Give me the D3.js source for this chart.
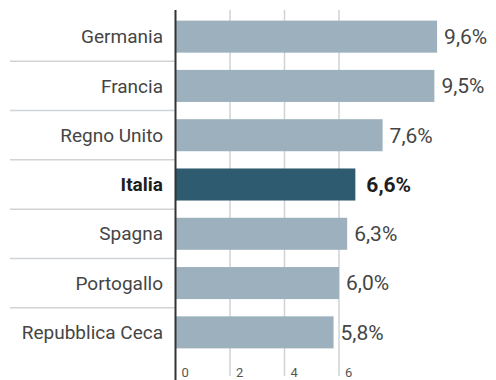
<!DOCTYPE html>
<html>
<head>
<meta charset="utf-8">
<script src="https://cdn.jsdelivr.net/npm/d3@7"></script>
<style>
  body { margin: 0; background: #fff; }
  svg { display: block; }
</style>
</head>
<body>
<div id="chart"></div>
<script>
var width = 496;
var height = 380;

// data
var countries = ['Germania', 'Francia', 'Regno Unito', 'Italia', 'Spagna', 'Portogallo', 'Repubblica Ceca'];
var values = [9.6, 9.5, 7.6, 6.6, 6.3, 6.0, 5.8];
var valueLabels = ['9,6%', '9,5%', '7,6%', '6,6%', '6,3%', '6,0%', '5,8%'];
var highlight = 'Italia';
var ticks = [0, 2, 4, 6];

var barColor = '#9cb1bd';
var hiColor = '#2e5b6f';
var gridColor = '#cfd3d6';

var x = d3.scaleLinear().domain([0, 6]).range([175.5, 339]);
var y = d3.scaleBand().domain(countries).range([12, 357])
    .paddingInner(0.35).paddingOuter(0.175);

var svg = d3.select('#chart').append('svg')
    .attr('width', width)
    .attr('height', height)
    .style('font-family', 'Roboto, "Liberation Sans", sans-serif');

// gridlines behind bars
svg.selectAll('.grid')
    .data(ticks.slice(1))
    .enter().append('line')
    .attr('class', 'grid')
    .attr('x1', function(d) { return x(d); })
    .attr('x2', function(d) { return x(d); })
    .attr('y1', 10)
    .attr('y2', 376)
    .attr('stroke', gridColor)
    .attr('stroke-width', 1.5);

// row separators on the label side
svg.selectAll('.sep')
    .data(countries.slice(1))
    .enter().append('line')
    .attr('class', 'sep')
    .attr('x1', 10)
    .attr('x2', x(0))
    .attr('y1', function(d) { return y(d) - y.step() * y.paddingInner() / 2; })
    .attr('y2', function(d) { return y(d) - y.step() * y.paddingInner() / 2; })
    .attr('stroke', gridColor)
    .attr('stroke-width', 1.5);

// bars
svg.selectAll('.bar')
    .data(countries)
    .enter().append('rect')
    .attr('class', 'bar')
    .attr('x', x(0))
    .attr('y', function(d) { return y(d); })
    .attr('width', function(d, i) { return x(values[i]) - x(0); })
    .attr('height', y.bandwidth())
    .attr('fill', function(d) { return d === highlight ? hiColor : barColor; });

// axis line
svg.append('line')
    .attr('x1', x(0)).attr('x2', x(0))
    .attr('y1', 10).attr('y2', height)
    .attr('stroke', '#333')
    .attr('stroke-width', 2);

// category labels
svg.selectAll('.cat')
    .data(countries)
    .enter().append('text')
    .attr('class', 'cat')
    .attr('x', 163)
    .attr('y', function(d) { return y(d) + y.bandwidth() / 2; })
    .attr('dy', '0.35em')
    .attr('text-anchor', 'end')
    .attr('font-size', 19)
    .attr('font-weight', function(d) { return d === highlight ? 'bold' : 'normal'; })
    .attr('fill', function(d) { return d === highlight ? '#1e1e1e' : '#454545'; })
    .text(function(d) { return d; });

// value labels
svg.selectAll('.val')
    .data(countries)
    .enter().append('text')
    .attr('class', 'val')
    .attr('x', function(d, i) { return x(values[i]) + (d === highlight ? 11 : 7); })
    .attr('y', function(d) { return y(d) + y.bandwidth() / 2; })
    .attr('dy', '0.35em')
    .attr('font-size', 21)
    .attr('font-weight', function(d) { return d === highlight ? 'bold' : 'normal'; })
    .attr('fill', function(d) { return d === highlight ? '#1e1e1e' : '#454545'; })
    .text(function(d, i) { return valueLabels[i]; });

// tick labels at the bottom
svg.selectAll('.tick')
    .data(ticks)
    .enter().append('text')
    .attr('class', 'tick')
    .attr('x', function(d) { return x(d) + 6; })
    .attr('y', 377)
    .attr('font-size', 13)
    .attr('fill', '#555')
    .text(function(d) { return d; });
</script>
</body>
</html>
